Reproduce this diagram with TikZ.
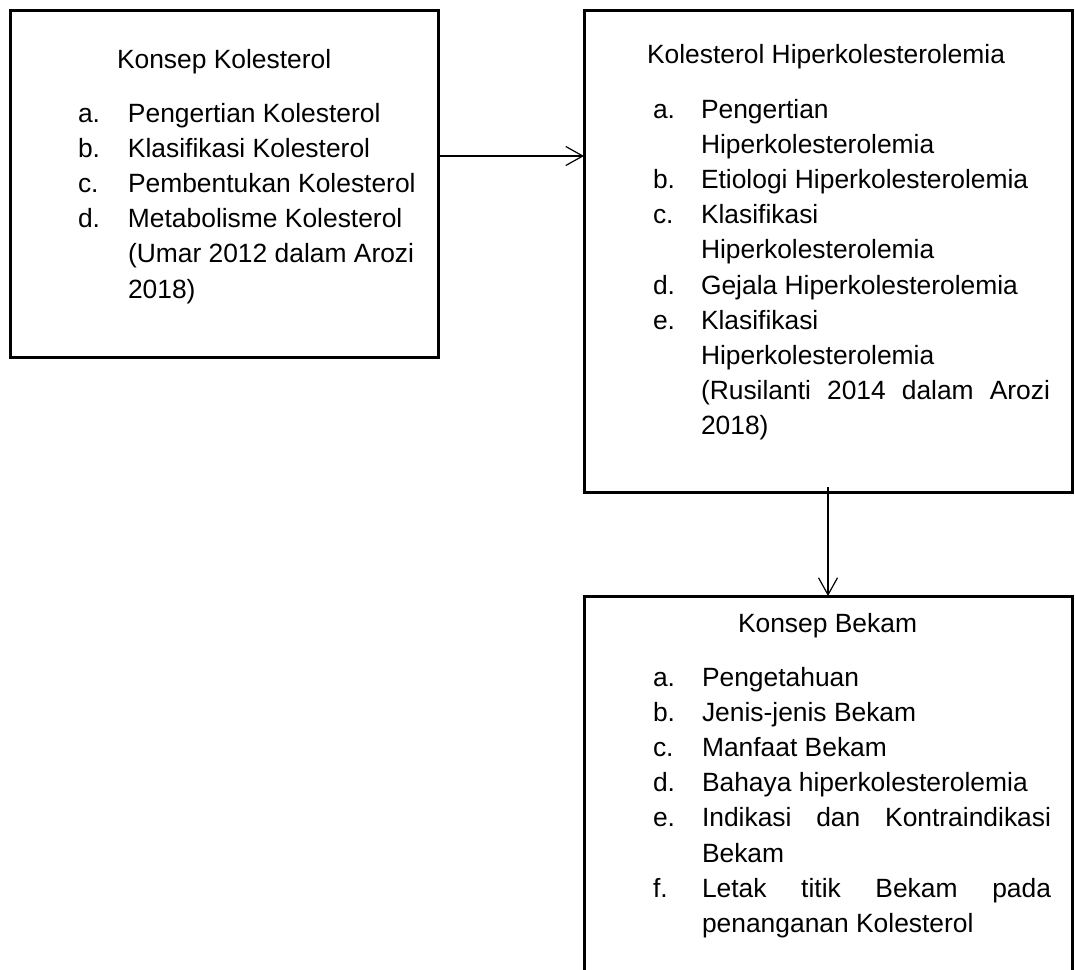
\documentclass[tikz,border=0pt]{standalone}
\usepackage{fontspec}
\setmainfont{Liberation Sans}
\usetikzlibrary{arrows.meta}
\newcommand\lblA[1]{\makebox[50pt][l]{#1}}
\newcommand\lblB[1]{\makebox[48pt][l]{#1}}
\newcommand\lblC[1]{\makebox[49pt][l]{#1}}
\tikzset{
  box/.style={draw, line width=3pt, rectangle, inner sep=0pt, outer sep=0pt, anchor=north west},
  txt/.style={inner sep=0pt, outer sep=0pt, anchor=base west, font=\fontsize{26.4pt}{35.2pt}\selectfont},
  arr/.style={line width=1.2pt, -{Straight Barb[length=17pt,width=19pt,line width=1.2pt]}}
}
\begin{document}
\begin{tikzpicture}[x=1pt,y=-1pt]
\useasboundingbox (0,0) rectangle (1075,969);
\clip (0,0) rectangle (1075,969);
\fill[white] (0,0) rectangle (1075,969);
% boxes
\node[box, minimum width=428pt, minimum height=347pt] (b1) at (10,10) {};
\node[box, minimum width=488pt, minimum height=482pt] (b2) at (584,10) {};
\node[box, minimum width=488pt, minimum height=420pt] (b3) at (584,596) {};
% box 1 text
\node[txt] (t1) at (117,68) {Konsep Kolesterol};
\node[txt] (l1) at (78,122) {\begin{tabular}[t]{@{}l@{}l@{}}
\lblA{a.} & Pengertian Kolesterol\\
\lblA{b.} & Klasifikasi Kolesterol\\
\lblA{c.} & Pembentukan Kolesterol\\
\lblA{d.} & Metabolisme Kolesterol\\
 & (Umar 2012 dalam Arozi\\
 & 2018)
\end{tabular}};
% box 2 text
\node[txt] (t2) at (647,63) {Kolesterol Hiperkolesterolemia};
\node[txt] (l2) at (653,118) {\begin{tabular}[t]{@{}l@{}l@{}}
\lblB{a.} & Pengertian\\
 & Hiperkolesterolemia\\
\lblB{b.} & Etiologi Hiperkolesterolemia\\
\lblB{c.} & Klasifikasi\\
 & Hiperkolesterolemia\\
\lblB{d.} & Gejala Hiperkolesterolemia\\
\lblB{e.} & Klasifikasi\\
 & Hiperkolesterolemia\\
 & \makebox[349pt][s]{(Rusilanti 2014 dalam Arozi}\\
 & 2018)
\end{tabular}};
% box 3 text
\node[txt] (t3) at (738,632) {Konsep Bekam};
\node[txt] (l3) at (653,686) {\begin{tabular}[t]{@{}l@{}l@{}}
\lblC{a.} & Pengetahuan\\
\lblC{b.} & Jenis-jenis Bekam\\
\lblC{c.} & Manfaat Bekam\\
\lblC{d.} & Bahaya hiperkolesterolemia\\
\lblC{e.} & \makebox[349pt][s]{Indikasi dan Kontraindikasi}\\
 & Bekam\\
\lblC{f.} & \makebox[349pt][s]{Letak titik Bekam pada}\\
 & penanganan Kolesterol
\end{tabular}};
% connectors
\draw[arr] ([yshift=27.5pt]b1.east) -- ([yshift=27.5pt]b1.east -| b2.west);
\draw[arr] ([yshift=5pt]b2.south) -- (b3.north);
\end{tikzpicture}
\end{document}
